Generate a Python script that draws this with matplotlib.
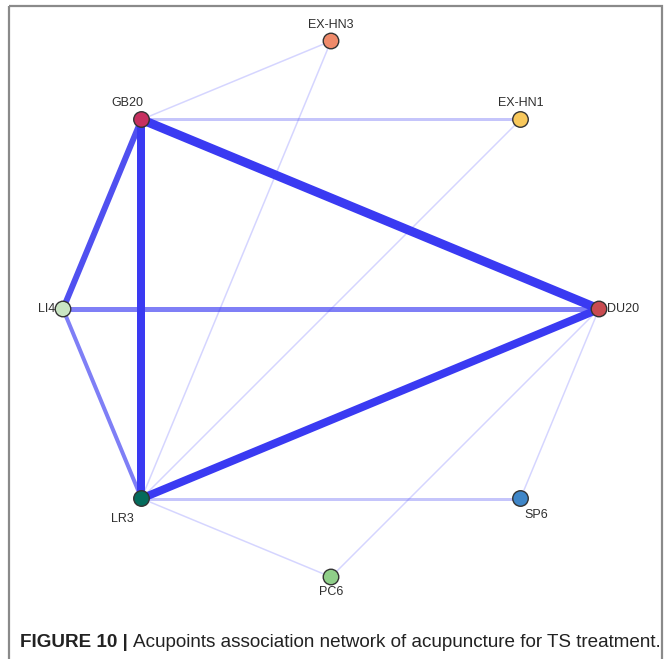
import numpy as np
import matplotlib
matplotlib.use("Agg")
import matplotlib.pyplot as plt
from matplotlib.patches import Rectangle

# acupoints in circular-layout order (counter-clockwise from the right)
nodes = ["DU20", "EX-HN1", "EX-HN3", "GB20", "LI4", "LR3", "PC6", "SP6"]
node_colors = ["#c94b50", "#f8c85c", "#ef8a6a", "#c7305f",
               "#c9e5c3", "#046b5c", "#8fce89", "#3f86c8"]

# co-occurrence edges and their strength
edge_src = ["GB20", "GB20", "LR3", "GB20", "LI4", "LI4", "GB20", "LR3",
            "GB20", "LR3", "LR3", "LR3", "DU20", "DU20"]
edge_dst = ["DU20", "LR3", "DU20", "LI4", "DU20", "LR3", "EX-HN1", "SP6",
            "EX-HN3", "EX-HN3", "EX-HN1", "PC6", "SP6", "PC6"]
edge_w = [9, 8, 8, 6, 5, 4, 3, 3, 1, 1, 1, 1, 1.5, 1]

fig = plt.figure(figsize=(6.70, 6.59), dpi=100)
ax = fig.add_axes([0, 0, 1, 1])
ax.set_xlim(0, 670)
ax.set_ylim(659, 0)
ax.axis("off")

# outer frame
ax.add_patch(Rectangle((9, 6), 653, 670, fill=False, ec="#8a8a8a", lw=1.6))

cx, cy, r = 331, 309, 268
ang = np.deg2rad(np.arange(len(nodes)) * 45)
pos = {n: (cx + r * np.cos(a), cy - r * np.sin(a)) for n, a in zip(nodes, ang)}


def edge_style(w):
    if w >= 7:
        return "#3a3af2", 1.0
    if w >= 6:
        return "#4646f0", 0.95
    if w >= 4:
        return "#3a3af2", 0.65
    if w >= 3:
        return "#5a5af5", 0.35
    return "#6a6aff", 0.28


for s, d, w in sorted(zip(edge_src, edge_dst, edge_w), key=lambda t: t[2]):
    (x0, y0), (x1, y1) = pos[s], pos[d]
    col, al = edge_style(w)
    ax.plot([x0, x1], [y0, y1], color=col, alpha=al, lw=w * 0.72 if w > 1 else 1.1,
            solid_capstyle="butt", zorder=1)

xs = [pos[n][0] for n in nodes]
ys = [pos[n][1] for n in nodes]
ax.scatter(xs, ys, s=125, c=node_colors, edgecolors="#333333", linewidths=1.0, zorder=3)

# label placement around each node: (dx, dy, ha, va)
offs = {"DU20": (8, 0, "left", "center"), "EX-HN1": (0, -10, "center", "bottom"),
        "EX-HN3": (0, -10, "center", "bottom"), "GB20": (-14, -10, "center", "bottom"),
        "LI4": (-8, 0, "right", "center"), "LR3": (-19, 20, "center", "center"),
        "PC6": (0, 15, "center", "center"), "SP6": (16, 16, "center", "center")}
for n in nodes:
    dx, dy, ha, va = offs[n]
    x, y = pos[n]
    ax.text(x + dx, y + dy, n, ha=ha, va=va, fontsize=9, color="#2e2e2e",
            family="Liberation Sans", zorder=4)

# caption
bold = fig.text(20 / 670, 1 - 647 / 659, "FIGURE 10 |", fontsize=13.6, fontweight="bold",
                family="Liberation Sans", color="#222222", va="baseline")
fig.canvas.draw()
bb = bold.get_window_extent()
fig.text(bb.x1 / 670 + 5 / 670, 1 - 647 / 659,
         "Acupoints association network of acupuncture for TS treatment.",
         fontsize=13.6, family="Liberation Sans", color="#222222", va="baseline")

fig.savefig("out.png", dpi=100)
